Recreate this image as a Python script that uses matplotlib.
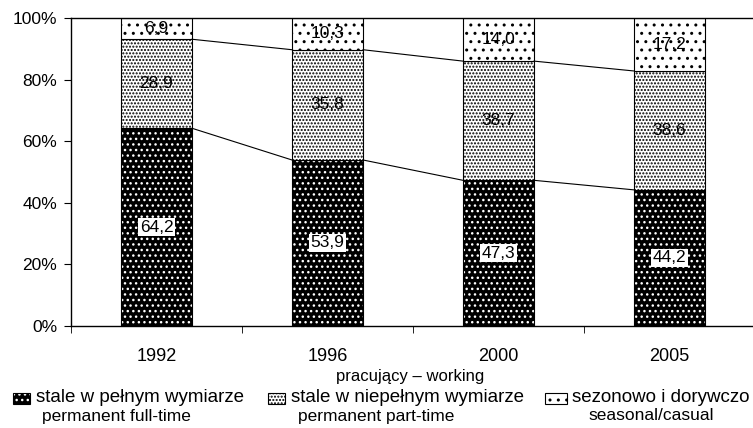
import matplotlib
matplotlib.use('Agg')
import matplotlib.pyplot as plt
from matplotlib.patches import Rectangle
import numpy as np

plt.rcParams['font.family'] = ['Liberation Sans', 'DejaVu Sans']
plt.rcParams['font.size'] = 12
plt.rcParams['hatch.linewidth'] = 1.0

years = ['1992', '1996', '2000', '2005']
full_time = [64.2, 53.9, 47.3, 44.2]
part_time = [28.9, 35.8, 38.7, 38.6]
seasonal = [6.9, 10.3, 14.0, 17.2]

legend_pl = ['stale w pełnym wymiarze', 'stale w niepełnym wymiarze', 'sezonowo i dorywczo']
legend_en = ['permanent full-time', 'permanent part-time', 'seasonal/casual']
xlabel = 'pracujący – working'

W, H = 753, 428
fig = plt.figure(figsize=(W / 100, H / 100), dpi=100)
ax = fig.add_axes([71 / W, 1 - 326 / H, 684 / W, 308 / H])

x = np.arange(len(years))
bw = 0.415
full = np.array(full_time)
part = np.array(part_time)
seas = np.array(seasonal)

# (face, hatch colour, hatch)
styles = [('black', 'white', '...'), ('white', 'black', '.....'), ('white', 'black', '..')]
series = [full, part, seas]
bottoms = [np.zeros(4), full, full + part]

for vals, bot, (fc, hc, hat) in zip(series, bottoms, styles):
    ax.bar(x, vals, bw, bottom=bot, color=fc, edgecolor=hc, hatch=hat, linewidth=0)
    ax.bar(x, vals, bw, bottom=bot, fill=False, edgecolor='black', linewidth=0.8)

# connecting lines between bars
for level in [full, full + part]:
    for i in range(len(years) - 1):
        ax.plot([x[i] + bw / 2, x[i + 1] - bw / 2], [level[i], level[i + 1]],
                color='black', lw=0.8)

def fmt(v):
    return ('%.1f' % v).replace('.', ',')

for i in range(len(years)):
    ax.text(x[i], full[i] / 2, fmt(full[i]), ha='center', va='center', fontsize=12.5,
            bbox=dict(facecolor='white', edgecolor='none', pad=1))
    ax.text(x[i], full[i] + part[i] / 2, fmt(part[i]), ha='center', va='center', fontsize=12.5)
    ax.text(x[i], full[i] + part[i] + seas[i] / 2, fmt(seas[i]), ha='center', va='center',
            fontsize=12.5)

ax.set_xlim(-0.5, 3.5)
ax.set_ylim(0, 100)
ax.set_yticks(range(0, 101, 20))
ax.set_yticklabels(['%d%%' % v for v in range(0, 101, 20)], fontsize=12.5)
ax.set_xticks(x)
ax.set_xticklabels(years, fontsize=13)
ax.set_xticks(np.arange(-0.5, 4, 1), minor=True)
ax.tick_params(axis='x', which='major', length=0, pad=16)
ax.tick_params(axis='x', which='minor', length=5, direction='out')
ax.tick_params(axis='y', length=5, direction='out', pad=5)
for s in ax.spines.values():
    s.set_linewidth(1.0)

fig.text(410 / W, 1 - 376 / H, xlabel, ha='center', va='center')

# legend drawn by hand
px = [13, 268, 545]
tx = [36, 291, 572]
tx2 = [42, 298, 588]
for k in range(3):
    fc, hc, hat = styles[k]
    pw = 17 if k < 2 else 22
    r = Rectangle((px[k] / W, 1 - 404 / H), pw / W, 11 / H, transform=fig.transFigure,
                  facecolor=fc, edgecolor=hc, hatch=hat, linewidth=0)
    fig.add_artist(r)
    r2 = Rectangle((px[k] / W, 1 - 404 / H), pw / W, 11 / H, transform=fig.transFigure,
                   fill=False, edgecolor='black', linewidth=0.8)
    fig.add_artist(r2)
    fig.text(tx[k] / W, 1 - 398 / H, legend_pl[k], ha='left', va='center', fontsize=13.5)
    fig.text(tx2[k] / W, 1 - 416 / H, legend_en[k], ha='left', va='center', fontsize=12.5)

fig.savefig('out.png', dpi=100)
